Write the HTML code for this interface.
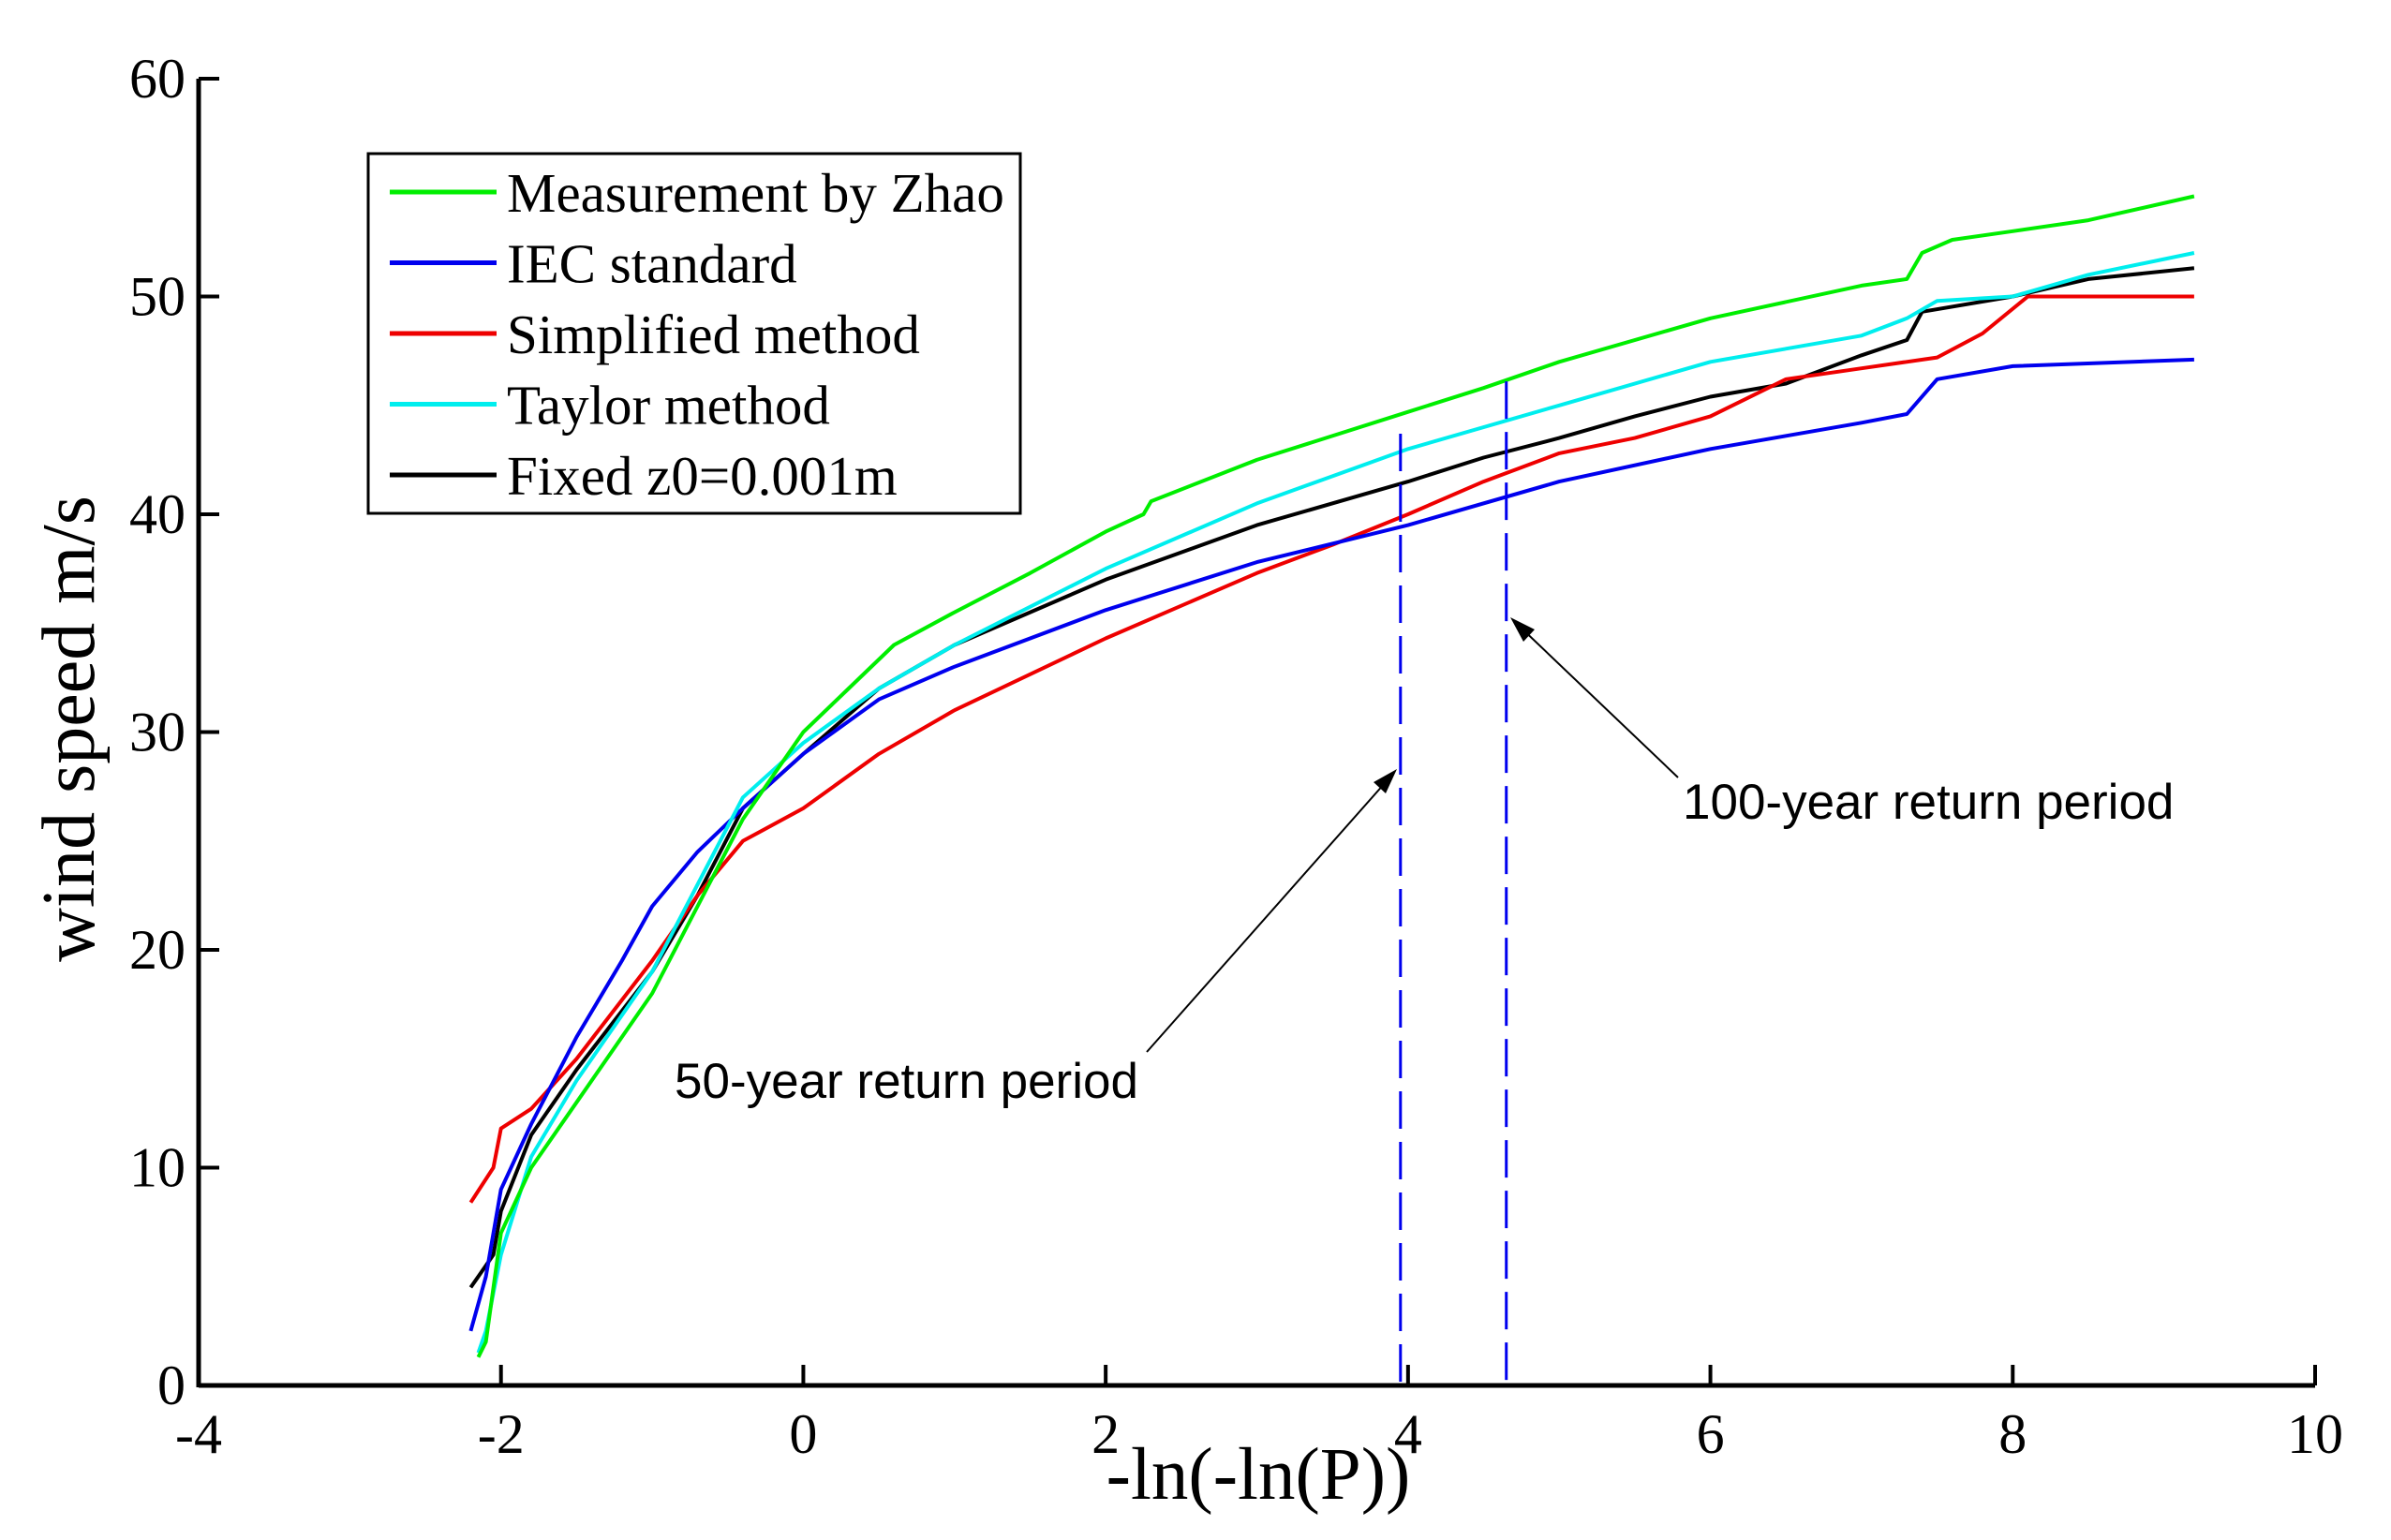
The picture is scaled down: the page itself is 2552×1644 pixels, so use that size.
<!DOCTYPE html>
<html><head><meta charset="utf-8"><style>
html,body{margin:0;padding:0;background:#fff;}
svg{display:block;}
</style></head><body>
<svg id="chart" xmlns="http://www.w3.org/2000/svg" width="2552" height="1644" viewBox="0 0 2552 1644">
<rect width="2552" height="1644" fill="#fff"/>
<g id="plot"></g>
<g id="axes"></g>
<text transform="translate(100,778) rotate(-90)" text-anchor="middle" font-family="Liberation Serif, serif" font-size="80">wind speed m/s</text>
<text x="1343" y="1600" text-anchor="middle" font-family="Liberation Serif, serif" font-size="79">-ln(-ln(P))</text>
<g>
<rect x="393" y="164" width="696" height="384" fill="#fff" stroke="#000" stroke-width="3"/>
<g id="legend-items"></g>
</g>
<g font-family="Liberation Sans, sans-serif" font-size="53">
<text x="720" y="1172">50-year return period</text>
<text x="1796" y="874">100-year return period</text>
<line x1="1224" y1="1123" x2="1486" y2="827" stroke="#000" stroke-width="2"/>
<polygon points="1491,821 1466,835 1479,847" fill="#000"/>
<line x1="1791" y1="830" x2="1618" y2="665" stroke="#000" stroke-width="2"/>
<polygon points="1612,659 1626,685 1638,672" fill="#000"/>
</g>
</svg>
<script>
const xTicks=[-4,-2,0,2,4,6,8,10];
const yTicks=[0,10,20,30,40,50,60];
const seriesNames=["Measurement by Zhao","IEC standard","Simplified method","Taylor method","Fixed z0=0.001m"];
const seriesColors=["#00ee00","#0000ee","#ee0000","#00eeee","#000000"];
const zhaoX=[-2.15,-2.1,-2.0,-1.8,-1.5,-1.0,-0.7,-0.4,0,0.3,0.6,1,1.5,2,2.25,2.3,3,4,4.5,5,6,7,7.3,7.4,7.6,8,8.5,9.2];
const zhaoY=[1.3,2,7,10,13,18,22,26,30,32,34,35.5,37.3,39.2,40,40.6,42.5,44.7,45.8,47,49,50.5,50.8,52,52.6,53,53.5,54.6];
const iecX=[-2.2,-2.1,-2.0,-1.8,-1.5,-1.2,-1.0,-0.7,-0.4,0,0.5,1,2,3,4,5,6,6.5,7,7.3,7.5,8,9.2];
const iecY=[2.5,5,9,12,16,19.5,22,24.5,26.5,29,31.5,33,35.6,37.8,39.5,41.5,43,43.6,44.2,44.6,46.2,46.8,47.1];
const simpX=[-2.2,-2.05,-2.0,-1.8,-1.5,-1.0,-0.7,-0.4,0,0.5,1,2,3,3.5,4,4.5,5,5.5,6,6.5,7,7.5,7.8,8.1,9.2];
const simpY=[8.4,10,11.8,12.7,15,19.5,22.5,25,26.5,29,31,34.3,37.3,38.6,40,41.5,42.8,43.5,44.5,46.2,46.7,47.2,48.3,50,50];
const taylorX=[-2.15,-2.1,-2.0,-1.8,-1.5,-1.0,-0.7,-0.4,0,0.5,1,2,3,4,5,6,7,7.3,7.5,8,8.5,9.2];
const taylorY=[1.5,2.5,6,10.5,14,19,23,27,29.5,32,34,37.5,40.5,43,45,47,48.2,49,49.8,50,51,52];
const fixedX=[-2.2,-2.05,-2.0,-1.8,-1.5,-1.0,-0.7,-0.4,0,0.5,1,2,3,4,4.5,5,5.5,6,6.5,7,7.3,7.4,8,8.5,9.2];
const fixedY=[4.5,6,8,11.5,14.5,19,22.5,26.5,29,32,34,37,39.5,41.5,42.6,43.5,44.5,45.4,46,47.3,48,49.3,50,50.8,51.3];
const dashX=[3.95,4.65];
const dashTop=[43.7,46.1];

const NS="http://www.w3.org/2000/svg";
const X0=212,X1=2471,Y0=1479,Y1=84;
function sx(v){return X0+(v-(-4))/(10-(-4))*(X1-X0);}
function sy(v){return Y0-(v-0)/(60-0)*(Y0-Y1);}
function mk(tag,attrs,parent){const e=document.createElementNS(NS,tag);for(const k in attrs)e.setAttribute(k,attrs[k]);parent.appendChild(e);return e;}
const plot=document.getElementById('plot'),axes=document.getElementById('axes'),leg=document.getElementById('legend-items');
const sX=[zhaoX,iecX,simpX,taylorX,fixedX],sY=[zhaoY,iecY,simpY,taylorY,fixedY];
const order=[4,2,1,3,0];
order.forEach(i=>{
  let d=sX[i].map((x,j)=>(j?'L':'M')+sx(x).toFixed(1)+','+sy(sY[i][j]).toFixed(1)).join(' ');
  const p=mk('path',{d:d,fill:'none',stroke:seriesColors[i],'stroke-width':4,'stroke-linejoin':'round'},plot);
  
  
});
dashX.forEach((x,i)=>{
  const l=mk('line',{x1:sx(x),x2:sx(x),y1:sy(dashTop[i]),y2:Y0,stroke:'#0000ee','stroke-width':3,'stroke-dasharray':'40,14'},plot);
  
  
});
mk('line',{x1:X0,y1:Y0,x2:X1,y2:Y0,stroke:'#000','stroke-width':5},axes);
mk('line',{x1:X0,y1:Y0+2,x2:X0,y2:Y1,stroke:'#000','stroke-width':5},axes);
xTicks.forEach(t=>{
  mk('line',{x1:sx(t),y1:Y0,x2:sx(t),y2:Y0-22,stroke:'#000','stroke-width':4},axes);
  const tx=mk('text',{x:sx(t),y:Y0+72,'text-anchor':'middle','font-family':'Liberation Serif, serif','font-size':60},axes);
  tx.textContent=String(t);
  
  
});
yTicks.forEach(t=>{
  mk('line',{x1:X0,y1:sy(t),x2:X0+22,y2:sy(t),stroke:'#000','stroke-width':4},axes);
  const tx=mk('text',{x:X0-14,y:sy(t)+20,'text-anchor':'end','font-family':'Liberation Serif, serif','font-size':60},axes);
  tx.textContent=String(t);
  
  
});
seriesNames.forEach((n,i)=>{
  const y=205+i*75.5;
  const l=mk('line',{x1:416,x2:530,y1:y,y2:y,stroke:seriesColors[i],'stroke-width':5},leg);
  
  
  const t=mk('text',{x:541,y:y+21,'font-family':'Liberation Serif, serif','font-size':59},leg);
  t.textContent=n;
  
  
});
</script>
</body></html>
